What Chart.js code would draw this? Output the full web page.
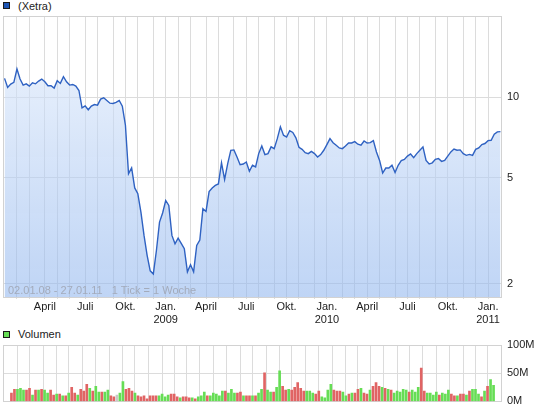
<!DOCTYPE html>
<html>
<head>
<meta charset="utf-8">
<script src="https://cdn.jsdelivr.net/npm/chart.js@4.4.1/dist/chart.umd.min.js"></script>
<style>
  html, body { margin: 0; padding: 0; background: #fff; }
  body {
    width: 545px; height: 413px; position: relative; overflow: hidden;
    font-family: "Liberation Sans", Arial, sans-serif; font-size: 11px; color: #222;
  }
  .sq { position: absolute; left: 3px; width: 7px; height: 7px; box-sizing: border-box; border: 1px solid #1a1a1a; }
  .lbl { position: absolute; left: 18px; line-height: 13px; white-space: nowrap; }
  #priceBox { position: absolute; left: 0; top: 0; width: 545px; height: 325px; }
  #volBox { position: absolute; left: 0; top: 325px; width: 545px; height: 88px; }
  #range { position: absolute; left: 8px; top: 284px; line-height: 13px; color: #a3abbb; white-space: pre; }
</style>
</head>
<body>

<span class="sq" style="top:2px;background:#1d55b5"></span>
<span class="lbl" style="top:0px">(Xetra)</span>

<div id="priceBox"><canvas id="priceChart"></canvas></div>
<div id="range">02.01.08 - 27.01.11   1 Tick = 1 Woche</div>

<span class="sq" style="top:331px;background:#66dd55"></span>
<span class="lbl" style="top:328px">Volumen</span>

<div id="volBox"><canvas id="volChart"></canvas></div>

<script>
/*
  Wochenchart (Xetra) mit Volumen darunter.
  Ein Punkt = eine Woche, Index 0 = Woche ab 31.12.2007.
*/

// Schlusskurse pro Woche (log. Skala)
const kurs = [
  11.79, 10.90, 11.22, 11.39, 12.78, 11.72, 11.13, 11.25, 11.03, 11.35,
  11.25, 11.52, 11.72, 11.45, 11.06, 11.06, 10.84, 11.55, 11.29, 11.96,
  11.45, 11.13, 11.19, 11.03, 10.62, 9.15, 9.30, 8.99, 9.28, 9.41,
  9.36, 9.86, 9.97, 9.74, 9.52, 9.49, 9.58, 9.74, 9.28, 7.87,
  5.18, 5.44, 4.58, 4.36, 3.72, 3.04, 2.56, 2.24, 2.18, 2.67,
  3.41, 3.69, 4.11, 3.94, 3.04, 2.83, 2.97, 2.84, 2.71, 2.22,
  2.36, 2.22, 2.79, 2.92, 3.83, 3.74, 4.44, 4.58, 4.68, 4.74,
  5.69, 4.93, 5.65, 6.34, 6.36, 5.98, 5.60, 5.63, 5.73, 5.29,
  5.57, 5.49, 6.16, 6.58, 6.11, 6.16, 6.53, 6.43, 7.01, 7.76,
  7.22, 7.11, 7.51, 7.39, 7.06, 6.51, 6.39, 6.21, 6.16, 6.28,
  6.16, 5.98, 6.11, 6.34, 6.66, 7.01, 6.77, 6.62, 6.47, 6.43,
  6.58, 6.75, 6.75, 6.83, 6.68, 6.62, 6.87, 6.75, 6.77, 6.89,
  6.25, 5.81, 5.21, 5.44, 5.44, 5.57, 5.23, 5.57, 5.80, 5.86,
  6.03, 6.14, 5.95, 6.16, 6.34, 6.53, 5.81, 5.63, 5.69, 5.86,
  5.90, 5.76, 5.81, 6.03, 6.25, 6.41, 6.34, 6.36, 6.16, 6.07,
  6.12, 6.07, 6.39, 6.47, 6.66, 6.72, 6.89, 6.91, 7.28, 7.43,
  7.45
];

// Wochenvolumen in Mio. Stück
const volumen = [
  14.8, 21.6, 21.6, 23.3, 19.9, 19.9, 23.3, 11.4, 19.9, 19.9,
  21.6, 19.9, 14.8, 19.9, 11.4, 13.1, 13.1, 9.7, 9.7, 14.8,
  25.0, 14.8, 11.4, 21.6, 18.2, 30.1, 23.3, 18.2, 26.7, 16.5,
  16.5, 16.5, 19.9, 9.7, 8.0, 11.4, 14.8, 35.2, 21.6, 23.3,
  18.2, 14.8, 9.7, 8.0, 9.7, 4.5, 9.7, 9.7, 9.7, 9.7,
  13.1, 8.0, 11.4, 13.1, 13.1, 8.0, 6.2, 8.0, 8.0, 6.2,
  6.2, 4.5, 8.0, 9.7, 16.5, 9.7, 9.7, 14.8, 13.1, 9.7,
  18.2, 18.2, 14.8, 21.6, 14.8, 14.8, 16.5, 9.7, 9.7, 9.7,
  9.7,
  9.7, 14.8, 21.6, 50.6, 19.9, 16.5, 16.5, 25.0, 54.0, 26.7,
  19.9, 21.6, 19.9, 25.0, 33.5, 23.3, 18.2, 18.2, 18.2, 14.8,
  13.1, 18.2, 8.0, 6.2, 19.9, 30.1, 19.9, 18.2, 18.2, 16.5,
  9.7, 13.1, 14.8, 14.8, 21.6, 23.3, 14.8, 13.1, 19.9, 26.7,
  33.5, 26.7, 25.0, 23.3, 21.6, 19.9, 14.8, 18.2, 16.5, 21.6,
  19.9, 16.5, 19.9, 16.5, 25.0, 59.1, 18.2, 14.8, 14.8, 11.4,
  16.5, 11.4, 14.8, 13.1, 19.9, 13.1, 9.7, 9.7, 13.1, 13.1,
  11.4, 18.2, 21.6, 21.6, 13.1, 8.0, 18.2, 26.7, 38.6, 28.4
];

// Richtung der Woche: g = gestiegen, r = gefallen, n = unverändert
const richtung = (
  "rrgggrrgrg" + "rggrrgrgrg" + "rrgrrrgrgg" + "rggrrnggrr" +
  "rgrrrrrrrg" + "gggrrrgrrr" + "grgggrgggg" + "grgggrrgrr" + "g" +
  "rggrggrggr" + "rgrrrrrggg" + "rrggggrrrg" + "grgrrgrrgr" +
  "rrgrgrgggg" + "grgggrrggg" + "grgggrrgrr" + "grgggrgrgg"
).split("");

const preisTicks = [2, 5, 10];
const volTicks = [0, 50, 100];
const monatsNamen = ["Jan.", "", "", "April", "", "", "Juli", "", "", "Okt.", "", ""];

// Gitterlinie je Monat: Woche, in der der Monatserste liegt
const wochenStart = Date.UTC(2007, 11, 31);
const monate = [];
for (let m = 1; m <= 36; m++) {
  const d = Date.UTC(2008, m, 1);
  monate.push({
    idx: Math.floor((d - wochenStart) / 6048e5),
    monat: m % 12,
    jahr: 2008 + Math.floor(m / 12)
  });
}

Chart.defaults.font.family = '"Liberation Sans", Arial, sans-serif';
Chart.defaults.font.size = 11;
Chart.defaults.color = "#222";
Chart.defaults.animation = false;

const GRID = "#dcdcdc";

// grauer Rahmen um die Zeichenfläche
const rahmen = {
  id: "rahmen",
  beforeDatasetsDraw(chart) {
    const a = chart.chartArea;
    const c = chart.ctx;
    c.save();
    c.strokeStyle = "#d2d2d2";
    c.lineWidth = 1;
    c.strokeRect(Math.round(a.left) + 0.5, Math.round(a.top) + 0.5,
                 Math.round(a.right - a.left) - 1, Math.round(a.bottom - a.top));
    c.restore();
  }
};

function xAchse(mitText) {
  return {
    type: "linear",
    min: -0.5,
    max: kurs.length - 0.5,
    afterBuildTicks(scale) {
      scale.ticks = monate.map(m => ({ value: m.idx }));
    },
    afterFit(scale) {
      scale.height = mitText ? 28 : 0;
    },
    border: { display: false },
    grid: { color: GRID, drawTicks: mitText, tickLength: 2 },
    ticks: {
      display: mitText,
      autoSkip: false,
      maxRotation: 0,
      padding: 1,
      color: "#222",
      callback(value, index) {
        const m = monate[index];
        if (!m) return "";
        if (m.monat === 0) return ["Jan.", String(m.jahr)];
        return monatsNamen[m.monat];
      }
    }
  };
}

new Chart(document.getElementById("priceChart"), {
  type: "line",
  data: {
    datasets: [{
      data: kurs.map((v, i) => ({ x: i, y: v })),
      borderColor: "#2f62c2",
      borderWidth: 1.4,
      pointRadius: 0,
      tension: 0,
      fill: "start",
      backgroundColor(ctx) {
        const area = ctx.chart.chartArea;
        if (!area) return "rgba(190,210,245,0.55)";
        const g = ctx.chart.ctx.createLinearGradient(0, area.top, 0, area.bottom);
        g.addColorStop(0, "rgba(228,238,252,0.6)");
        g.addColorStop(1, "rgba(145,182,238,0.58)");
        return g;
      }
    }]
  },
  options: {
    responsive: true,
    maintainAspectRatio: false,
    parsing: false,
    layout: { padding: { top: 16, left: 3, right: 0, bottom: 0 } },
    plugins: { legend: { display: false }, tooltip: { enabled: false } },
    scales: {
      x: xAchse(true),
      y: {
        type: "logarithmic",
        position: "right",
        min: 1.787,
        max: 20.2,
        afterBuildTicks(scale) {
          scale.ticks = preisTicks.map(v => ({ value: v }));
        },
        afterFit(scale) { scale.width = 43; },
        border: { display: false },
        grid: { color: GRID, drawTicks: false },
        ticks: {
          padding: 5,
          color: "#222",
          callback: v => String(v)
        }
      }
    }
  },
  plugins: [rahmen]
});

const FARBE = { g: "#66dd55", r: "#e06464", n: "#c8c8c8" };

new Chart(document.getElementById("volChart"), {
  type: "bar",
  data: {
    datasets: [{
      data: volumen.map((v, i) => ({ x: i, y: v })),
      backgroundColor: richtung.map(r => FARBE[r]),
      barThickness: 2,
      borderWidth: 0
    }]
  },
  options: {
    responsive: true,
    maintainAspectRatio: false,
    parsing: false,
    layout: { padding: { top: 20, left: 3, right: 0, bottom: 9 } },
    plugins: { legend: { display: false }, tooltip: { enabled: false } },
    scales: {
      x: xAchse(false),
      y: {
        position: "right",
        min: 0,
        max: 100,
        afterBuildTicks(scale) {
          scale.ticks = volTicks.map(v => ({ value: v }));
        },
        afterFit(scale) { scale.width = 43; },
        border: { display: false },
        grid: { color: GRID, drawTicks: false },
        ticks: {
          padding: 5,
          color: "#222",
          callback: v => v + "M"
        }
      }
    }
  },
  plugins: [rahmen]
});
</script>
</body>
</html>
